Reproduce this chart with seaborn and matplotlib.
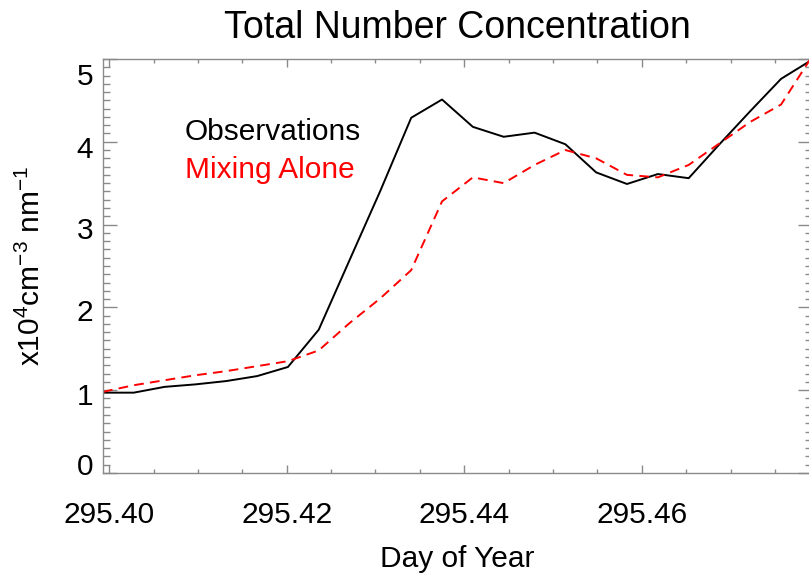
import matplotlib
matplotlib.use("Agg")
import matplotlib.pyplot as plt
import matplotlib.transforms as mtransforms
from matplotlib.ticker import FixedLocator, MultipleLocator, FormatStrFormatter
import seaborn as sns
import pandas as pd

# Day of year, 5-minute samples
day_of_year = [
    295.39931, 295.40278, 295.40625, 295.40972, 295.41319, 295.41667,
    295.42014, 295.42361, 295.42708, 295.43056, 295.43403, 295.43750,
    295.44097, 295.44444, 295.44792, 295.45139, 295.45486, 295.45833,
    295.46181, 295.46528, 295.46875, 295.47222, 295.47569, 295.47917,
]

# Total number concentration, x10^4 cm^-3 nm^-1
observations = [
    0.97, 0.97, 1.04, 1.07, 1.11, 1.17, 1.28, 1.73, 2.57, 3.41, 4.29, 4.51,
    4.18, 4.06, 4.11, 3.97, 3.63, 3.49, 3.61, 3.56, 3.97, 4.37, 4.76, 4.99,
]
mixing_alone = [
    0.98, 1.06, 1.12, 1.18, 1.23, 1.29, 1.35, 1.48, 1.81, 2.11, 2.45, 3.28,
    3.57, 3.50, 3.72, 3.90, 3.80, 3.60, 3.57, 3.72, 3.98, 4.24, 4.45, 5.03,
]

series_names = ["Observations", "Mixing Alone"]
series_colors = ["black", "#ff0000"]

x_major_ticks = [295.40, 295.42, 295.44, 295.46]
y_major_ticks = [0, 1, 2, 3, 4, 5]

sns.set_style("ticks")
plt.rcParams["font.family"] = ["Liberation Sans", "DejaVu Sans"]
plt.rcParams["mathtext.default"] = "regular"
plt.rcParams["text.color"] = "black"
plt.rcParams["axes.labelcolor"] = "black"
plt.rcParams["xtick.labelcolor"] = "black"
plt.rcParams["ytick.labelcolor"] = "black"

df = pd.DataFrame({
    "day": day_of_year,
    "Observations": observations,
    "Mixing Alone": mixing_alone,
})

fig = plt.figure(figsize=(8.09, 5.74), dpi=100)
ax = fig.add_axes([0.1273, 0.1760, 0.8764, 0.7213])

sns.lineplot(data=df, x="day", y="Observations", ax=ax,
             color=series_colors[0], linewidth=1.4)
sns.lineplot(data=df, x="day", y="Mixing Alone", ax=ax,
             color=series_colors[1], linewidth=1.4)
ax.lines[1].set_dashes((5.0, 3.2))

ax.set_xlim(day_of_year[0], day_of_year[-1])
ax.set_ylim(0, 5)

axis_grey = "#8a8a8a"
for side in ["left", "right", "top", "bottom"]:
    ax.spines[side].set_visible(True)
    ax.spines[side].set_color(axis_grey)
    ax.spines[side].set_linewidth(1.0)

ax.xaxis.set_major_locator(FixedLocator(x_major_ticks))
ax.xaxis.set_minor_locator(MultipleLocator(0.005))
ax.xaxis.set_major_formatter(FormatStrFormatter("%.2f"))
ax.yaxis.set_major_locator(FixedLocator(y_major_ticks))
ax.yaxis.set_minor_locator(MultipleLocator(0.1))
ax.yaxis.set_major_formatter(FormatStrFormatter("%d"))

ax.tick_params(axis="both", which="both", direction="in", color=axis_grey,
               width=1.0, top=True, right=True, labelsize=21.5,
               labelcolor="black")
ax.tick_params(axis="x", which="major", length=5.8, pad=20.5)
ax.tick_params(axis="x", which="minor", length=2.9)
ax.tick_params(axis="y", which="major", length=10, pad=7)
ax.tick_params(axis="y", which="minor", length=5)

ax.set_xlabel("Day of Year", fontsize=21.5, labelpad=11, color="black")
ax.set_ylabel(r"x10$^4$cm$^{-3}$ nm$^{-1}$", fontsize=21.5, labelpad=22,
              color="black")
ax.set_title("Total Number Concentration", fontsize=27, pad=15, color="black")

# series labels in their line colours
ax.text(0.1157, 0.8043, series_names[0], transform=ax.transAxes,
        color=series_colors[0], fontsize=21.5, va="baseline", ha="left")
ax.text(0.1157, 0.7126, series_names[1], transform=ax.transAxes,
        color=series_colors[1], fontsize=21.5, va="baseline", ha="left")

# y tick labels sit a little low; the end labels are pulled inside the frame
fig.canvas.draw()
shifts = {0: 9, 1: -4, 2: -3, 3: -3, 4: -5, 5: -15}
for tick, val in zip(ax.yaxis.get_major_ticks(), y_major_ticks):
    dy = shifts[val] / 72.0 * 0.72
    off = mtransforms.ScaledTranslation(0, dy, fig.dpi_scale_trans)
    tick.label1.set_transform(tick.label1.get_transform() + off)

fig.savefig("out.png", dpi=100)
